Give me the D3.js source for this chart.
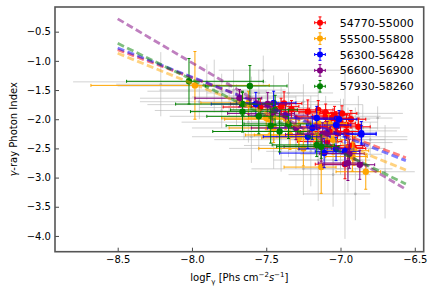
<!DOCTYPE html>
<html><head><meta charset="utf-8">
<script src="https://cdn.jsdelivr.net/npm/d3@7"></script>
<style>body{margin:0;background:#fff}svg{display:block}text{font-family:"DejaVu Sans",sans-serif}</style>
</head><body><svg id="c" width="436" height="294"></svg>
<script>
// point format: [logF, index, xErrLow, xErrHigh, yErr]
const seriesNames = ["54770-55000","55500-55800","56300-56428","56600-56900","57930-58260"];
const seriesColors = ["#ff0000","#ffa500","#0000ff","#800080","#008000"];
const redPts = [
 [-7.54,-1.79,0.25,0.15,0.15],[-7.40,-1.78,0.2,0.12,0.14],[-7.38,-1.73,0.22,0.12,0.2],[-7.33,-1.83,0.2,0.12,0.15],
 [-7.22,-1.87,0.18,0.1,0.2],[-7.15,-1.84,0.2,0.1,0.16],[-7.10,-1.89,0.18,0.1,0.15],[-7.10,-1.96,0.2,0.1,0.12],
 [-7.04,-1.93,0.15,0.1,0.15],[-6.99,-1.90,0.15,0.1,0.13],[-7.03,-1.99,0.15,0.08,0.12],[-7.06,-1.98,0.2,0.1,0.1],
 [-7.00,-2.07,0.15,0.1,0.15],[-7.03,-2.13,0.15,0.08,0.15],[-6.96,-2.10,0.15,0.1,0.18],[-6.88,-2.13,0.15,0.08,0.15],
 [-7.07,-2.21,0.2,0.1,0.15],[-6.96,-2.21,0.15,0.1,0.15],[-7.15,-2.13,0.18,0.1,0.15],[-7.09,-2.38,0.2,0.1,0.2],
 [-6.92,-2.45,0.15,0.08,0.2],[-6.91,-2.50,0.15,0.08,0.2],[-6.95,-2.48,0.15,0.1,0.2],[-6.97,-2.77,0.2,0.1,0.25],
 [-7.02,-2.24,0.15,0.1,0.15],[-6.93,-2.00,0.12,0.1,0.15]
];
const orangePts = [
 [-7.98,-1.42,0.70,0.5,0.58],[-7.62,-1.72,0.32,0.2,0.2],[-7.48,-2.00,0.3,0.2,0.25],[-7.50,-1.98,0.3,0.15,0.2],
 [-7.37,-1.98,0.25,0.15,0.2],[-7.34,-2.27,0.3,0.15,0.25],[-7.28,-2.27,0.3,0.15,0.25],[-7.28,-2.32,0.25,0.15,0.2],
 [-7.18,-2.30,0.25,0.12,0.2],[-7.15,-2.07,0.2,0.12,0.2],[-7.08,-2.07,0.2,0.12,0.15],[-7.05,-2.35,0.2,0.1,0.25],
 [-6.91,-2.54,0.2,0.1,0.25],[-6.92,-2.64,0.18,0.1,0.25],[-7.13,-2.82,0.25,0.1,0.45],[-6.83,-2.90,0.2,0.1,0.3],
 [-7.45,-2.15,0.3,0.15,0.25],[-7.25,-2.50,0.3,0.12,0.3]
];
const bluePts = [
 [-7.57,-1.74,0.3,0.15,0.2],[-7.45,-1.72,0.25,0.15,0.2],[-7.16,-1.98,0.2,0.12,0.2],[-7.01,-2.00,0.15,0.12,0.15],
 [-7.03,-2.10,0.2,0.1,0.15],[-7.19,-2.15,0.3,0.12,0.2],[-7.22,-2.30,0.3,0.15,0.2],[-6.86,-2.24,0.18,0.1,0.2],
 [-7.11,-2.58,0.3,0.12,0.25],[-7.03,-2.51,0.25,0.12,0.2],[-6.97,-2.55,0.2,0.1,0.25],[-6.86,-2.26,0.15,0.1,0.15]
];
const purplePts = [
 [-7.68,-1.64,0.3,0.15,0.15],[-7.49,-1.74,0.25,0.15,0.2],[-7.46,-1.90,0.3,0.15,0.2],[-7.37,-1.93,0.25,0.15,0.2],
 [-7.12,-2.26,0.25,0.12,0.2],[-7.09,-2.24,0.2,0.12,0.2],[-7.13,-2.47,0.25,0.12,0.25],[-6.95,-2.75,0.2,0.1,0.3],
 [-6.87,-2.78,0.25,0.1,0.25],[-6.94,-2.59,0.2,0.1,0.25],[-7.30,-2.15,0.3,0.15,0.2]
];
const greenPts = [
 [-8.02,-1.35,0.42,0.5,0.39],[-7.61,-1.43,0.3,0.25,0.35],[-7.66,-1.74,0.45,0.2,0.2],[-7.66,-1.87,0.35,0.2,0.35],
 [-7.44,-1.84,0.3,0.15,0.25],[-7.47,-2.11,0.3,0.2,0.3],[-7.35,-2.08,0.3,0.15,0.25],[-7.41,-2.21,0.45,0.2,0.35],
 [-7.16,-2.44,0.3,0.12,0.2],[-7.13,-2.47,0.3,0.12,0.2],[-7.55,-1.95,0.35,0.2,0.3]
];
const grayPts = [
 [-7.90,-1.36,0.9,0.4,0.3],[-7.85,-1.43,0.65,0.35,0.45],[-8.21,-1.40,0.3,0.4,0.55],[-7.80,-1.52,0.5,0.3,0.3],
 [-7.75,-1.64,0.6,0.3,0.3],[-7.70,-1.75,0.6,0.3,0.35],[-7.60,-1.62,0.4,0.3,0.35],[-7.52,-1.16,0.3,0.6,0.25],
 [-7.55,-1.55,0.35,0.3,0.4],[-7.45,-1.60,0.3,0.3,0.35],[-7.40,-1.85,0.35,0.3,0.4],[-7.30,-1.95,0.3,0.25,0.35],
 [-7.25,-2.05,0.35,0.3,0.4],[-7.20,-2.10,0.3,0.25,0.35],[-7.35,-2.20,0.4,0.3,0.45],[-7.15,-2.20,0.35,0.25,0.45],
 [-7.10,-2.30,0.3,0.3,0.5],[-7.00,-2.35,0.35,0.3,0.5],[-6.95,-2.40,0.3,0.3,0.6],[-6.97,-2.60,0.3,0.25,1.45],
 [-7.05,-2.70,0.3,0.25,0.6],[-6.90,-2.30,0.3,0.35,0.5],[-6.75,-1.98,0.25,0.1,0.2],[-7.45,-2.35,0.4,0.3,0.5],
 [-7.55,-2.15,0.45,0.3,0.4],[-7.65,-1.95,0.5,0.3,0.4],[-7.30,-2.45,0.35,0.3,0.4],[-7.20,-2.55,0.3,0.3,0.6],
 [-7.15,-2.70,0.3,0.3,0.7],[-7.10,-2.00,0.3,0.3,0.4],[-7.00,-2.05,0.3,0.25,0.4],[-6.85,-2.15,0.3,0.25,0.4],
 [-6.80,-2.35,0.3,0.25,0.3],[-7.25,-1.70,0.3,0.25,0.3],[-7.35,-1.55,0.35,0.3,0.35],[-7.95,-1.70,0.4,0.3,0.3],
 [-7.80,-1.85,0.45,0.3,0.3],[-7.60,-2.30,0.4,0.3,0.45],[-6.95,-2.85,0.3,0.3,0.4],[-7.05,-2.95,0.3,0.25,0.55],
 [-7.25,-2.85,0.35,0.3,0.45],[-6.88,-1.90,0.3,0.3,0.3],[-6.90,-3.28,0.35,0.1,0.45],[-6.70,-2.90,0.25,0.2,0.8],
 [-7.40,-2.00,0.4,0.3,0.35],[-7.50,-1.80,0.45,0.3,0.3],[-7.20,-1.90,0.35,0.3,0.3],[-7.05,-2.15,0.3,0.3,0.35],
 [-7.30,-2.30,0.35,0.3,0.4],[-7.00,-2.50,0.3,0.3,0.45],[-7.15,-1.75,0.3,0.3,0.3],[-6.92,-2.20,0.3,0.3,0.35],
 [-7.62,-2.05,0.45,0.3,0.35],[-7.40,-2.50,0.35,0.3,0.4],[-6.98,-1.95,0.3,0.25,0.3],[-7.72,-1.50,0.5,0.35,0.35]
];
// dashed fit lines: start and end [logF, index]
const fitStart = [[-8.5,-0.81],[-8.5,-0.87],[-8.5,-0.78],[-8.5,-0.28],[-8.5,-0.70]];
const fitEnd   = [[-6.56,-2.66],[-6.56,-2.87],[-6.56,-2.71],[-6.56,-3.20],[-6.56,-3.11]];
const xTicks = [-8.5,-8.0,-7.5,-7.0,-6.5];
const yTicks = [-0.5,-1.0,-1.5,-2.0,-2.5,-3.0,-3.5,-4.0];
const allSeries = [redPts, orangePts, bluePts, purplePts, greenPts];

const svg = d3.select("#c");
const L=55, R=423.7, T=7, B=251.7;
const x = d3.scaleLinear().domain([-8.922,-6.44]).range([L,R]);
const y = d3.scaleLinear().domain([-0.077,-4.27]).range([T,B]);

const plot = svg.append("g");
plot.append("clipPath").attr("id","clip").append("rect").attr("x",L).attr("y",T).attr("width",R-L).attr("height",B-T);
const inner = plot.append("g").attr("clip-path","url(#clip)");

function drawErr(g, pts, color, opacity, cap, r, markerColor){
  const grp = g.append("g").attr("stroke",color).attr("stroke-opacity",opacity).attr("stroke-width",1).attr("fill","none");
  pts.forEach(p=>{
    const cx=x(p[0]), cy=y(p[1]);
    const x0=x(p[0]-p[2]), x1=x(p[0]+p[3]), y0=y(p[1]+p[4]), y1=y(p[1]-p[4]);
    grp.append("line").attr("x1",x0).attr("x2",x1).attr("y1",cy).attr("y2",cy);
    grp.append("line").attr("x1",cx).attr("x2",cx).attr("y1",y0).attr("y2",y1);
    if(cap>0){
      grp.append("line").attr("x1",x0).attr("x2",x0).attr("y1",cy-cap).attr("y2",cy+cap);
      grp.append("line").attr("x1",x1).attr("x2",x1).attr("y1",cy-cap).attr("y2",cy+cap);
      grp.append("line").attr("x1",cx-cap).attr("x2",cx+cap).attr("y1",y0).attr("y2",y0);
      grp.append("line").attr("x1",cx-cap).attr("x2",cx+cap).attr("y1",y1).attr("y2",y1);
    }
  });
  g.append("g").selectAll("circle").data(pts).join("circle")
    .attr("cx",p=>x(p[0])).attr("cy",p=>y(p[1])).attr("r",r).attr("fill",markerColor).attr("fill-opacity",opacity);
}
drawErr(inner, grayPts, "#b4b4b4", 0.6, 0, 1.3, "#a0a0a0");
allSeries.forEach((pts,i)=>drawErr(inner, pts, seriesColors[i], 1, 1.5, 3.2, seriesColors[i]));

const line = d3.line().x(d=>x(d[0])).y(d=>y(d[1]));
fitStart.forEach((s,i)=>{
  inner.append("path").attr("d",line([s,fitEnd[i]])).attr("stroke",seriesColors[i]).attr("stroke-opacity",0.5)
    .attr("stroke-width",2.8).attr("stroke-dasharray","7,3.5").attr("fill","none");
});

// axes
const xa = svg.append("g").attr("transform",`translate(0,${B})`)
  .call(d3.axisBottom(x).tickValues(xTicks).tickFormat(d3.format(".1f")).tickSizeInner(-4).tickSizeOuter(0).tickPadding(4));
const ya = svg.append("g").attr("transform",`translate(${L},0)`)
  .call(d3.axisLeft(y).tickValues(yTicks).tickFormat(d3.format(".1f")).tickSizeInner(-4).tickSizeOuter(0).tickPadding(4));
[xa,ya].forEach(a=>{
  a.select(".domain").remove();
  a.selectAll("line").attr("stroke","#333").attr("stroke-width",0.9);
  a.selectAll("text").attr("font-size",10).attr("fill","#000").attr("font-family","DejaVu Sans");
});
svg.append("rect").attr("x",L).attr("y",T).attr("width",R-L).attr("height",B-T)
  .attr("fill","none").attr("stroke","#555").attr("stroke-width",1.6);

// labels
const xl = svg.append("text").attr("x",(L+R)/2).attr("y",281).attr("text-anchor","middle").attr("font-size",10);
xl.append("tspan").text("logF");
xl.append("tspan").text("γ").attr("font-size",7).attr("dy",2.5);
xl.append("tspan").text(" [Phs cm").attr("dy",-2.5);
xl.append("tspan").text("−2").attr("font-size",7).attr("dy",-4);
xl.append("tspan").text("s").attr("font-style","italic").attr("dy",4);
xl.append("tspan").text("−1").attr("font-size",7).attr("dy",-4);
xl.append("tspan").text("]").attr("dy",4);

const yl = svg.append("text").attr("transform",`translate(17,${(T+B)/2}) rotate(-90)`).attr("text-anchor","middle").attr("font-size",10);
yl.append("tspan").text("γ").attr("font-style","italic");
yl.append("tspan").text("-ray Photon Index");

// legend
const lg = svg.append("g");
seriesNames.forEach((n,i)=>{
  const cy = 22.7 + i*15.9, cx = 320;
  const c = seriesColors[i];
  const g = lg.append("g").attr("stroke",c).attr("stroke-width",1);
  g.append("line").attr("x1",cx-5.3).attr("x2",cx+5.3).attr("y1",cy).attr("y2",cy);
  g.append("line").attr("x1",cx).attr("x2",cx).attr("y1",cy-5.8).attr("y2",cy+5.8);
  g.append("line").attr("x1",cx-5.3).attr("x2",cx-5.3).attr("y1",cy-1.5).attr("y2",cy+1.5);
  g.append("line").attr("x1",cx+5.3).attr("x2",cx+5.3).attr("y1",cy-1.5).attr("y2",cy+1.5);
  g.append("line").attr("x1",cx-1.5).attr("x2",cx+1.5).attr("y1",cy-5.8).attr("y2",cy-5.8);
  g.append("line").attr("x1",cx-1.5).attr("x2",cx+1.5).attr("y1",cy+5.8).attr("y2",cy+5.8);
  lg.append("circle").attr("cx",cx).attr("cy",cy).attr("r",3).attr("fill",c);
  lg.append("text").attr("x",339.7).attr("y",cy+4).attr("font-size",11).text(n);
});
</script></body></html>
